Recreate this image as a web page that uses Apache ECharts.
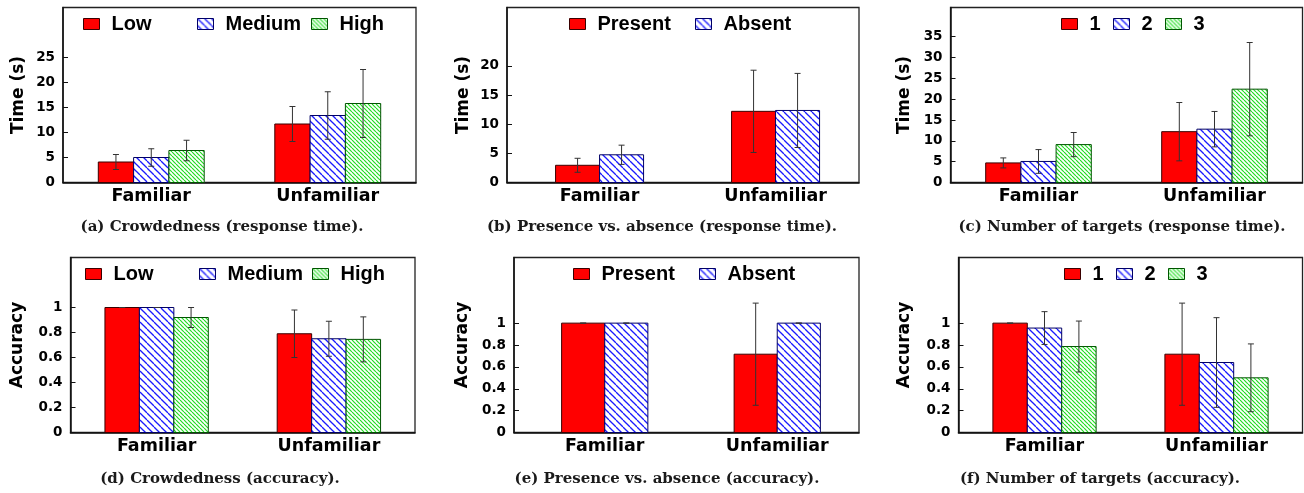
<!DOCTYPE html>
<html><head><meta charset="utf-8">
<script src="https://cdn.jsdelivr.net/npm/echarts@6/dist/echarts.min.js"></script>
<style>html,body{margin:0;padding:0;background:#fff}#c{width:1304px;height:493px}</style>
</head><body><div id="c"></div>
<script>
// ---------- data ----------
const categories = ['Familiar', 'Unfamiliar'];

const crowdLevels = ['Low', 'Medium', 'High'];
const crowdTimeMean = [[4.1, 11.7], [5.0, 13.4], [6.4, 15.8]];
const crowdTimeErr = [[1.5, 3.5], [1.75, 4.75], [2.05, 6.8]];
const crowdAccMean = [[1.0, 0.79], [1.0, 0.75], [0.92, 0.745]];
const crowdAccErr = [[0, 0.19], [0, 0.14], [0.08, 0.18]];

const presenceLevels = ['Present', 'Absent'];
const presenceTimeMean = [[2.95, 12.2], [4.75, 12.35]];
const presenceTimeErr = [[1.2, 7.05], [1.65, 6.35]];
const presenceAccMean = [[1.0, 0.716], [1.0, 1.0]];
const presenceAccErr = [[0, 0.467], [0, 0]];

const targetLevels = ['1', '2', '3'];
const targetTimeMean = [[4.7, 12.2], [5.05, 12.8], [9.1, 22.4]];
const targetTimeErr = [[1.2, 7.0], [2.85, 4.25], [2.9, 11.2]];
const targetAccMean = [[1.0, 0.716], [0.955, 0.64], [0.786, 0.5]];
const targetAccErr = [[0, 0.467], [0.15, 0.41], [0.233, 0.31]];

const crowdTimeTicks = [0, 5, 10, 15, 20, 25];
const presenceTimeTicks = [0, 5, 10, 15, 20];
const targetTimeTicks = [0, 5, 10, 15, 20, 25, 30, 35];
const accTicks = [0, 0.2, 0.4, 0.6, 0.8, 1];

const captions = [
  '(a) Crowdedness (response time).',
  '(b) Presence vs. absence (response time).',
  '(c) Number of targets (response time).',
  '(d) Crowdedness (accuracy).',
  '(e) Presence vs. absence (accuracy).',
  '(f) Number of targets (accuracy).'
];

// ---------- styles ----------
function hatch(color, period, lw) {
  const c = document.createElement('canvas');
  c.width = c.height = period;
  const g = c.getContext('2d');
  g.fillStyle = '#fff'; g.fillRect(0, 0, period, period);
  g.strokeStyle = color; g.lineWidth = lw;
  for (let k = -1; k <= 1; k++) {
    g.beginPath(); g.moveTo(k * period, 0); g.lineTo(k * period + period, period); g.stroke();
  }
  return c;
}
const barStyles = [
  { fill: '#ff0000', stroke: '#3a0000' },
  { fill: { image: hatch('#1a1aff', 7, 1.3), repeat: 'repeat' }, stroke: '#000066' },
  { fill: { image: hatch('#22dd22', 4, 1.2), repeat: 'repeat' }, stroke: '#005500' }
];

const SANS = 'DejaVu Sans';
const LEG = 'Liberation Sans';
const SERIF = 'DejaVu Serif';

const panels = [
  { levels: crowdLevels, mean: crowdTimeMean, err: crowdTimeErr, ticks: crowdTimeTicks, yMax: 35, yName: 'Time (s)',
    grid: { left: 63, top: 7.5, width: 353, height: 175 }, xMin: -0.5, xMax: 1.5, legendX: [83, 197, 311], nameGap: 36, capX: 222, capY: 220 },
  { levels: presenceLevels, mean: presenceTimeMean, err: presenceTimeErr, ticks: presenceTimeTicks, yMax: 30, yName: 'Time (s)',
    grid: { left: 507, top: 7.5, width: 352, height: 175 }, xMin: -0.526, xMax: 1.474, legendX: [569, 695], nameGap: 35, capX: 662, capY: 220 },
  { levels: targetLevels, mean: targetTimeMean, err: targetTimeErr, ticks: targetTimeTicks, yMax: 42, yName: 'Time (s)',
    grid: { left: 950.5, top: 7.5, width: 352, height: 175 }, xMin: -0.5, xMax: 1.5, legendX: [1061, 1113, 1165], nameGap: 37, capX: 1122, capY: 220 },
  { levels: crowdLevels, mean: crowdAccMean, err: crowdAccErr, ticks: accTicks, yMax: 1.4, yName: 'Accuracy',
    grid: { left: 70.5, top: 257.5, width: 344.5, height: 175 }, xMin: -0.5, xMax: 1.5, legendX: [85, 199, 312], nameGap: 44, capX: 220, capY: 472 },
  { levels: presenceLevels, mean: presenceAccMean, err: presenceAccErr, ticks: accTicks, yMax: 1.6, yName: 'Accuracy',
    grid: { left: 514, top: 257.5, width: 345, height: 175 }, xMin: -0.526, xMax: 1.474, legendX: [573, 699], nameGap: 43, capX: 667, capY: 472 },
  { levels: targetLevels, mean: targetAccMean, err: targetAccErr, ticks: accTicks, yMax: 1.6, yName: 'Accuracy',
    grid: { left: 958.5, top: 257.5, width: 344, height: 175 }, xMin: -0.5, xMax: 1.5, legendX: [1064, 1116, 1168], nameGap: 45, capX: 1100, capY: 472 }
];

function makeRender(n, j, style) {
  return function (params, api) {
    const x = api.value(0), v = api.value(1), e = api.value(2);
    const w = api.size([1 / (n + 2), 0])[0];
    const base = api.coord([x, 0]);
    const cx = base[0] + (j - (n - 1) / 2) * w;
    const yTop = api.coord([x, v])[1];
    const yHi = api.coord([x, v + e])[1];
    const yLo = api.coord([x, v - e])[1];
    const cap = 3;
    const es = { stroke: '#333', lineWidth: 1 };
    return {
      type: 'group',
      children: [
        { type: 'rect', shape: { x: cx - w / 2, y: yTop, width: w, height: base[1] - yTop },
          style: { fill: style.fill, stroke: style.stroke, lineWidth: 1 } },
        { type: 'line', shape: { x1: cx, y1: yHi, x2: cx, y2: yLo }, style: es },
        { type: 'line', shape: { x1: cx - cap, y1: yHi, x2: cx + cap, y2: yHi }, style: es },
        { type: 'line', shape: { x1: cx - cap, y1: yLo, x2: cx + cap, y2: yLo }, style: es }
      ]
    };
  };
}

const option = { animation: false, backgroundColor: '#fff', grid: [], xAxis: [], yAxis: [], series: [], legend: [], title: [] };

panels.forEach((p, pi) => {
  option.grid.push(Object.assign({ show: true, borderColor: '#222', borderWidth: 1.3 }, p.grid));
  option.xAxis.push({
    type: 'value', gridIndex: pi, min: p.xMin, max: p.xMax,
    axisLine: { show: true, onZero: false, lineStyle: { color: '#111', width: 1.5 } },
    axisTick: { show: false }, splitLine: { show: false },
    axisLabel: { customValues: [0, 1], formatter: v => categories[Math.round(v)], margin: 5,
      fontFamily: SANS, fontWeight: 'bold', fontSize: 17.5, color: '#000' }
  });
  option.yAxis.push({
    type: 'value', gridIndex: pi, min: 0, max: p.yMax,
    name: p.yName, nameLocation: 'middle', nameGap: p.nameGap, nameRotate: 90,
    nameTextStyle: { fontFamily: SANS, fontWeight: 'bold', fontSize: 17, color: '#000' },
    axisLine: { show: true, onZero: false, lineStyle: { color: '#111', width: 1.5 } },
    axisTick: { show: true, inside: true, length: 5, customValues: p.ticks, lineStyle: { color: '#111', width: 1 } },
    splitLine: { show: false },
    axisLabel: { customValues: p.ticks, margin: 8, fontFamily: SANS, fontWeight: 'bold', fontSize: 13.5, color: '#000' }
  });
  const n = p.levels.length;
  p.levels.forEach((lv, j) => {
    const st = barStyles[j];
    option.series.push({
      type: 'custom', name: lv, xAxisIndex: pi, yAxisIndex: pi,
      itemStyle: { color: st.fill, borderColor: st.stroke, borderWidth: 1 },
      encode: { x: 0, y: 1 },
      renderItem: makeRender(n, j, st),
      data: categories.map((c, i) => [i, p.mean[j][i], p.err[j][i]])
    });
    option.legend.push({
      left: p.legendX[j], top: p.grid.top + 6.5, padding: 0, itemWidth: 16, itemHeight: 11,
      selectedMode: false,
      data: [{ name: lv, icon: 'rect', itemStyle: { color: st.fill, borderColor: st.stroke, borderWidth: 1 } }],
      formatter: name => '{t|' + name + '}',
      textStyle: { rich: { t: { fontFamily: LEG, fontWeight: 'bold', fontSize: 20, lineHeight: 22, color: '#000', padding: [0, 0, 0, 7] } } }
    });
  });
  option.title.push({
    text: captions[pi], left: p.capX, top: p.capY, textAlign: 'center', padding: 0,
    textStyle: { fontFamily: SERIF, fontWeight: 'bold', fontSize: 15, color: '#1a1a1a' }
  });
});

const chart = echarts.init(document.getElementById('c'), null, { renderer: 'canvas' });
chart.setOption(option);
</script>
</body></html>
